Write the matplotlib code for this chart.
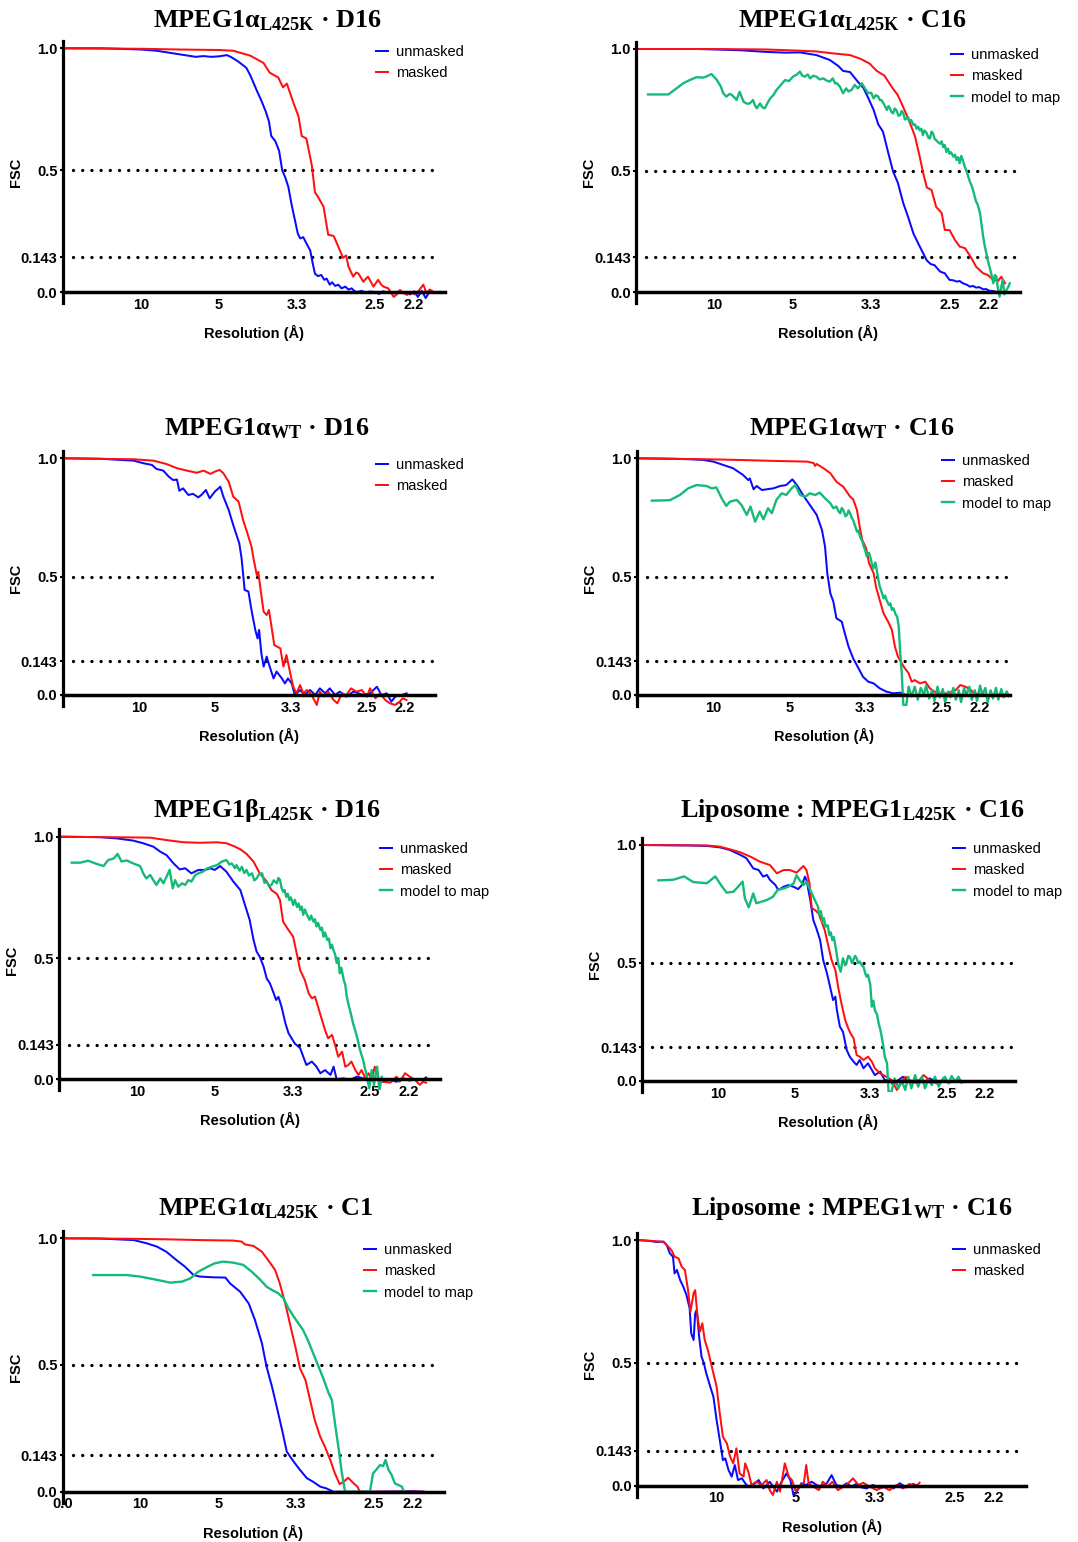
import matplotlib
matplotlib.use("Agg")
import matplotlib.pyplot as plt

plt.rcParams["font.family"] = ["Liberation Sans", "DejaVu Sans"]
plt.rcParams["mathtext.fontset"] = "custom"
plt.rcParams["mathtext.rm"] = "Liberation Serif:bold"
plt.rcParams["mathtext.bf"] = "Liberation Serif:bold"
plt.rcParams["mathtext.it"] = "Liberation Serif:bold:italic"

W, H = 1078, 1542

# spatial frequency (1/A) ticks and the resolution they stand for
res_ticks = [0.1, 0.2, 0.3, 0.4, 0.45]
res_labels = ["10", "5", "3.3", "2.5", "2.2"]
fsc_ticks = [0.0, 0.143, 0.5, 1.0]
fsc_labels = ["0.0", "0.143", "0.5", "1.0"]
thresholds = [0.5, 0.143]

# ---- MPEG1a L425K, D16 ----
a_l425k_d16_unmasked = [
    (0, 1.0), (0.05, 1.0), (0.10, 0.995), (0.12, 0.99), (0.14, 0.98), (0.16, 0.97), (0.17, 0.965),
    (0.18, 0.968), (0.19, 0.965), (0.20, 0.967), (0.21, 0.972), (0.215, 0.965), (0.225, 0.945),
    (0.235, 0.92), (0.24, 0.89), (0.248, 0.83), (0.255, 0.78), (0.26, 0.74), (0.264, 0.70),
    (0.267, 0.64), (0.272, 0.62), (0.277, 0.58), (0.281, 0.50), (0.285, 0.47), (0.289, 0.43),
    (0.293, 0.36), (0.297, 0.30), (0.301, 0.24), (0.304, 0.22), (0.308, 0.225), (0.312, 0.20),
    (0.317, 0.17), (0.320, 0.12), (0.323, 0.075), (0.327, 0.065), (0.331, 0.07), (0.335, 0.05),
    (0.338, 0.055), (0.342, 0.03), (0.345, 0.04), (0.349, 0.025), (0.353, 0.03), (0.357, 0.015),
    (0.362, 0.022), (0.366, 0.01), (0.370, 0.015), (0.374, 0.003), (0.378, 0.0), (0.383, 0.005),
    (0.388, -0.005), (0.393, 0.002), (0.40, 0.0), (0.405, -0.008), (0.41, 0.003), (0.415, -0.002),
    (0.42, 0.0), (0.425, -0.005), (0.43, 0.002), (0.435, -0.003), (0.44, 0.0), (0.445, -0.01),
    (0.45, 0.003), (0.455, -0.02), (0.46, 0.005), (0.465, -0.025), (0.47, 0.002),
]
a_l425k_d16_masked = [
    (0, 1.0), (0.1, 0.998), (0.15, 0.995), (0.2, 0.993), (0.218, 0.99), (0.24, 0.97), (0.257, 0.94),
    (0.265, 0.90), (0.276, 0.88), (0.282, 0.84), (0.287, 0.855), (0.295, 0.78), (0.302, 0.72),
    (0.306, 0.64), (0.312, 0.63), (0.319, 0.52), (0.323, 0.41), (0.327, 0.39), (0.334, 0.35),
    (0.340, 0.235), (0.347, 0.23), (0.353, 0.186), (0.359, 0.14), (0.363, 0.15), (0.366, 0.104),
    (0.372, 0.063), (0.376, 0.08), (0.379, 0.075), (0.385, 0.042), (0.391, 0.063), (0.395, 0.04),
    (0.398, 0.022), (0.404, 0.05), (0.408, 0.03), (0.411, 0.022), (0.417, 0.015), (0.424, -0.02),
    (0.428, -0.01), (0.432, 0.008), (0.437, -0.005), (0.441, -0.012), (0.446, 0.0), (0.451, -0.01),
    (0.456, 0.005), (0.462, 0.03), (0.466, -0.005), (0.470, 0.01), (0.473, 0.005),
]

# ---- MPEG1a L425K, C16 ----
a_l425k_c16_unmasked = [
    (0, 1.0), (0.08, 1.0), (0.132, 0.995), (0.166, 0.988), (0.19, 0.985), (0.209, 0.986),
    (0.23, 0.975), (0.247, 0.955), (0.258, 0.93), (0.264, 0.91), (0.273, 0.905), (0.283, 0.865),
    (0.29, 0.84), (0.296, 0.80), (0.303, 0.75), (0.309, 0.69), (0.315, 0.66), (0.322, 0.57),
    (0.328, 0.495), (0.334, 0.45), (0.341, 0.365), (0.347, 0.31), (0.354, 0.24), (0.362, 0.187),
    (0.371, 0.13), (0.376, 0.115), (0.381, 0.11), (0.388, 0.084), (0.394, 0.077), (0.40, 0.05),
    (0.405, 0.048), (0.409, 0.043), (0.413, 0.045), (0.417, 0.036), (0.422, 0.03), (0.426, 0.022),
    (0.43, 0.025), (0.434, 0.018), (0.438, 0.02), (0.443, 0.011), (0.447, 0.012), (0.451, 0.005),
    (0.456, 0.004), (0.46, 0.0),
]
a_l425k_c16_masked = [
    (0, 1.0), (0.1, 1.0), (0.166, 0.998), (0.209, 0.993), (0.23, 0.99), (0.251, 0.982),
    (0.273, 0.975), (0.286, 0.96), (0.298, 0.94), (0.307, 0.91), (0.317, 0.89), (0.326, 0.845),
    (0.334, 0.81), (0.341, 0.76), (0.349, 0.70), (0.356, 0.64), (0.362, 0.556), (0.366, 0.495),
    (0.371, 0.43), (0.377, 0.42), (0.383, 0.35), (0.39, 0.325), (0.394, 0.255), (0.40, 0.255),
    (0.407, 0.214), (0.413, 0.187), (0.42, 0.18), (0.428, 0.139), (0.434, 0.104), (0.443, 0.077),
    (0.449, 0.07), (0.456, 0.05), (0.462, 0.045), (0.466, 0.063), (0.471, 0.036),
]
a_l425k_c16_model = [
    (0.015, 0.813), (0.041, 0.813), (0.05, 0.835), (0.06, 0.859), (0.068, 0.872), (0.077, 0.884),
    (0.085, 0.882), (0.089, 0.886), (0.096, 0.897), (0.103, 0.872), (0.108, 0.845), (0.111, 0.818),
    (0.115, 0.804), (0.119, 0.815), (0.122, 0.811), (0.126, 0.798), (0.128, 0.79), (0.132, 0.824),
    (0.137, 0.783), (0.141, 0.775), (0.145, 0.776), (0.149, 0.79), (0.152, 0.765), (0.154, 0.756),
    (0.158, 0.776), (0.161, 0.76), (0.164, 0.756), (0.168, 0.78), (0.171, 0.797), (0.175, 0.81),
    (0.179, 0.831), (0.184, 0.85), (0.19, 0.872), (0.195, 0.868), (0.2, 0.886), (0.205, 0.895),
    (0.209, 0.907), (0.212, 0.89), (0.215, 0.886), (0.219, 0.895), (0.222, 0.879), (0.226, 0.89),
    (0.23, 0.886), (0.234, 0.875), (0.239, 0.879), (0.243, 0.87), (0.247, 0.866), (0.251, 0.879),
    (0.254, 0.858), (0.256, 0.86), (0.26, 0.845), (0.264, 0.818), (0.268, 0.838), (0.271, 0.825),
    (0.275, 0.832), (0.279, 0.852), (0.283, 0.838), (0.286, 0.85), (0.288, 0.859), (0.292, 0.838),
    (0.296, 0.818), (0.3, 0.82), (0.303, 0.797), (0.306, 0.81), (0.309, 0.804), (0.311, 0.79),
    (0.313, 0.79), (0.316, 0.775), (0.32, 0.749), (0.322, 0.765), (0.324, 0.756), (0.326, 0.74),
    (0.328, 0.735), (0.33, 0.755), (0.332, 0.749), (0.335, 0.725), (0.337, 0.728), (0.339, 0.745),
    (0.341, 0.735), (0.343, 0.71), (0.345, 0.714), (0.347, 0.72), (0.349, 0.70), (0.351, 0.708),
    (0.354, 0.687), (0.356, 0.69), (0.358, 0.672), (0.36, 0.68), (0.362, 0.665), (0.364, 0.672),
    (0.366, 0.646), (0.368, 0.665), (0.371, 0.653), (0.373, 0.635), (0.375, 0.632), (0.377, 0.66),
    (0.379, 0.653), (0.381, 0.63), (0.383, 0.625), (0.385, 0.618), (0.388, 0.61), (0.39, 0.62),
    (0.392, 0.596), (0.394, 0.605), (0.396, 0.576), (0.398, 0.59), (0.40, 0.569), (0.402, 0.575),
    (0.405, 0.557), (0.407, 0.565), (0.409, 0.543), (0.411, 0.555), (0.413, 0.53), (0.415, 0.56),
    (0.417, 0.543), (0.419, 0.52), (0.422, 0.495), (0.424, 0.475), (0.426, 0.454), (0.428, 0.44),
    (0.43, 0.42), (0.432, 0.395), (0.434, 0.372), (0.436, 0.36), (0.439, 0.324), (0.441, 0.275),
    (0.443, 0.228), (0.445, 0.19), (0.447, 0.159), (0.449, 0.13), (0.451, 0.104), (0.453, 0.08),
    (0.456, 0.036), (0.458, 0.07), (0.46, 0.063), (0.462, 0.01), (0.464, -0.019), (0.466, 0.02),
    (0.468, 0.05), (0.47, -0.01), (0.473, 0.01), (0.475, 0.02), (0.477, 0.036),
]

# ---- MPEG1a WT, D16 ----
a_wt_d16_unmasked = [
    (0, 1.0), (0.049, 0.998), (0.093, 0.99), (0.106, 0.979), (0.117, 0.972), (0.123, 0.955),
    (0.132, 0.948), (0.139, 0.923), (0.145, 0.908), (0.15, 0.91), (0.153, 0.863), (0.158, 0.873),
    (0.165, 0.845), (0.171, 0.85), (0.178, 0.835), (0.182, 0.845), (0.188, 0.866), (0.193, 0.831),
    (0.2, 0.86), (0.207, 0.88), (0.211, 0.838), (0.218, 0.782), (0.224, 0.718), (0.232, 0.64),
    (0.235, 0.577), (0.239, 0.444), (0.244, 0.437), (0.248, 0.359), (0.253, 0.275), (0.256, 0.239),
    (0.258, 0.275), (0.261, 0.176), (0.264, 0.12), (0.268, 0.162), (0.272, 0.12), (0.277, 0.07),
    (0.281, 0.099), (0.288, 0.07), (0.292, 0.049), (0.296, 0.07), (0.301, 0.049), (0.305, 0.0),
    (0.312, 0.021), (0.318, 0.0), (0.325, 0.021), (0.332, 0.0), (0.338, 0.028), (0.345, 0.007),
    (0.351, 0.028), (0.358, 0.0), (0.364, 0.014), (0.373, -0.007), (0.382, 0.014), (0.389, 0.007),
    (0.395, 0.0), (0.404, 0.007), (0.413, 0.035), (0.419, 0.0), (0.426, 0.007), (0.432, -0.028),
    (0.439, 0.0), (0.446, 0.0), (0.452, 0.007),
]
a_wt_d16_masked = [
    (0, 1.0), (0.093, 0.996), (0.119, 0.99), (0.136, 0.976), (0.15, 0.958), (0.163, 0.948),
    (0.176, 0.939), (0.185, 0.948), (0.194, 0.934), (0.2, 0.944), (0.206, 0.951), (0.211, 0.937),
    (0.218, 0.901), (0.224, 0.838), (0.231, 0.817), (0.237, 0.739), (0.242, 0.69), (0.248, 0.627),
    (0.251, 0.571), (0.255, 0.507), (0.257, 0.52), (0.26, 0.444), (0.264, 0.352), (0.268, 0.338),
    (0.271, 0.359), (0.275, 0.275), (0.278, 0.211), (0.282, 0.204), (0.286, 0.197), (0.29, 0.12),
    (0.294, 0.169), (0.299, 0.092), (0.303, 0.035), (0.307, 0.007), (0.312, 0.042), (0.316, 0.007),
    (0.321, 0.021), (0.327, 0.0), (0.334, -0.042), (0.338, 0.014), (0.343, -0.007), (0.349, 0.014),
    (0.356, -0.021), (0.361, -0.035), (0.367, 0.007), (0.373, 0.0), (0.379, 0.028), (0.386, 0.014),
    (0.393, 0.021), (0.40, -0.007), (0.404, 0.028), (0.411, -0.014), (0.417, 0.007), (0.424, -0.021),
    (0.43, -0.035), (0.437, -0.042), (0.443, -0.028), (0.447, -0.014), (0.452, -0.021),
]

# ---- MPEG1a WT, C16 ----
a_wt_c16_unmasked = [
    (0, 1.0), (0.047, 0.998), (0.069, 0.996), (0.087, 0.993), (0.1, 0.986), (0.113, 0.972),
    (0.126, 0.958), (0.139, 0.93), (0.146, 0.908), (0.148, 0.915), (0.153, 0.869), (0.157, 0.883),
    (0.164, 0.866), (0.17, 0.869), (0.179, 0.873), (0.188, 0.883), (0.196, 0.887), (0.204, 0.911),
    (0.21, 0.887), (0.218, 0.845), (0.227, 0.803), (0.236, 0.761), (0.243, 0.697), (0.247, 0.627),
    (0.25, 0.514), (0.254, 0.43), (0.258, 0.394), (0.262, 0.324), (0.269, 0.31), (0.273, 0.261),
    (0.278, 0.204), (0.284, 0.155), (0.291, 0.113), (0.297, 0.077), (0.304, 0.056), (0.311, 0.049),
    (0.319, 0.028), (0.328, 0.014), (0.337, 0.007), (0.346, 0.01), (0.354, 0.0), (0.37, 0.0),
    (0.40, 0.0), (0.44, 0.0), (0.48, 0.0),
]
a_wt_c16_masked = [
    (0, 1.0), (0.091, 0.996), (0.135, 0.993), (0.179, 0.989), (0.223, 0.986), (0.232, 0.98),
    (0.234, 0.968), (0.236, 0.976), (0.245, 0.958), (0.254, 0.937), (0.262, 0.901), (0.271, 0.88),
    (0.28, 0.838), (0.284, 0.827), (0.289, 0.782), (0.293, 0.704), (0.296, 0.655), (0.301, 0.62),
    (0.305, 0.556), (0.311, 0.514), (0.314, 0.458), (0.319, 0.401), (0.324, 0.345), (0.33, 0.31),
    (0.335, 0.275), (0.339, 0.204), (0.343, 0.162), (0.348, 0.134), (0.352, 0.113), (0.357, 0.092),
    (0.361, 0.056), (0.365, 0.063), (0.372, 0.049), (0.379, 0.056), (0.385, 0.028), (0.394, 0.007),
    (0.408, 0.007), (0.419, 0.021), (0.425, 0.042), (0.432, 0.035), (0.439, 0.021), (0.443, 0.007),
    (0.46, 0.0), (0.48, 0.0),
]
a_wt_c16_model = [
    (0.019, 0.821), (0.043, 0.823), (0.056, 0.845), (0.067, 0.873), (0.078, 0.887), (0.091, 0.883),
    (0.098, 0.873), (0.104, 0.877), (0.111, 0.831), (0.117, 0.799), (0.122, 0.817), (0.131, 0.824),
    (0.137, 0.803), (0.144, 0.761), (0.149, 0.796), (0.155, 0.732), (0.161, 0.775), (0.166, 0.742),
    (0.172, 0.789), (0.177, 0.768), (0.183, 0.824), (0.19, 0.852), (0.196, 0.845), (0.203, 0.873),
    (0.208, 0.887), (0.214, 0.845), (0.221, 0.838), (0.227, 0.852), (0.234, 0.845), (0.24, 0.855),
    (0.247, 0.831), (0.254, 0.81), (0.258, 0.789), (0.262, 0.796), (0.265, 0.775), (0.267, 0.768),
    (0.269, 0.79), (0.271, 0.782), (0.274, 0.755), (0.276, 0.761), (0.278, 0.78), (0.28, 0.768),
    (0.282, 0.75), (0.284, 0.739), (0.287, 0.71), (0.289, 0.69), (0.291, 0.695), (0.293, 0.669),
    (0.296, 0.65), (0.298, 0.627), (0.3, 0.61), (0.302, 0.585), (0.305, 0.6), (0.307, 0.578),
    (0.309, 0.55), (0.311, 0.535), (0.313, 0.56), (0.314, 0.549), (0.317, 0.49), (0.319, 0.458),
    (0.322, 0.43), (0.324, 0.408), (0.326, 0.42), (0.328, 0.401), (0.331, 0.38), (0.333, 0.387),
    (0.335, 0.36), (0.337, 0.366), (0.34, 0.34), (0.342, 0.33), (0.344, 0.289), (0.346, 0.176),
    (0.348, 0.092), (0.35, -0.042), (0.354, -0.042), (0.357, 0.035), (0.361, -0.007), (0.365, 0.035),
    (0.369, -0.02), (0.373, 0.03), (0.377, 0.0), (0.38, 0.04), (0.384, -0.015), (0.388, 0.02),
    (0.391, -0.025), (0.395, 0.035), (0.398, -0.01), (0.402, 0.025), (0.405, -0.03), (0.409, 0.015),
    (0.412, -0.01), (0.416, 0.03), (0.419, -0.02), (0.423, 0.02), (0.426, -0.03), (0.43, 0.03),
    (0.433, 0.0), (0.437, 0.035), (0.44, -0.02), (0.444, 0.02), (0.447, -0.025), (0.451, 0.04),
    (0.454, 0.0), (0.458, 0.03), (0.461, -0.03), (0.465, 0.02), (0.468, -0.015), (0.472, 0.03),
    (0.475, -0.02), (0.479, 0.025), (0.482, -0.01), (0.486, 0.015), (0.489, -0.005),
]

# ---- MPEG1b L425K, D16 ----
b_l425k_d16_unmasked = [
    (0, 1.0), (0.052, 0.998), (0.074, 0.993), (0.095, 0.984), (0.108, 0.973), (0.121, 0.959),
    (0.13, 0.938), (0.138, 0.924), (0.147, 0.89), (0.155, 0.865), (0.162, 0.87), (0.17, 0.849),
    (0.179, 0.863), (0.188, 0.863), (0.194, 0.87), (0.2, 0.863), (0.207, 0.879), (0.215, 0.856),
    (0.224, 0.815), (0.233, 0.78), (0.241, 0.698), (0.245, 0.657), (0.25, 0.574), (0.254, 0.526),
    (0.258, 0.505), (0.263, 0.464), (0.267, 0.415), (0.271, 0.396), (0.276, 0.354), (0.279, 0.327),
    (0.282, 0.34), (0.286, 0.299), (0.291, 0.231), (0.295, 0.19), (0.299, 0.169), (0.303, 0.148),
    (0.31, 0.128), (0.314, 0.093), (0.318, 0.059), (0.325, 0.073), (0.331, 0.052), (0.336, 0.025),
    (0.342, 0.038), (0.349, 0.018), (0.353, 0.052), (0.357, 0.0), (0.366, 0.004), (0.374, -0.003),
    (0.383, 0.011), (0.391, 0.004), (0.40, -0.005), (0.409, 0.0), (0.417, -0.01), (0.426, -0.003),
    (0.434, -0.01), (0.443, 0.004), (0.451, -0.005), (0.459, 0.0), (0.468, -0.003), (0.472, 0.008),
]
b_l425k_d16_masked = [
    (0, 1.0), (0.095, 0.997), (0.117, 0.996), (0.138, 0.986), (0.16, 0.977), (0.181, 0.975),
    (0.203, 0.977), (0.215, 0.973), (0.224, 0.962), (0.233, 0.948), (0.241, 0.929), (0.25, 0.897),
    (0.258, 0.849), (0.267, 0.815), (0.273, 0.78), (0.28, 0.764), (0.284, 0.739), (0.288, 0.65),
    (0.295, 0.615), (0.301, 0.588), (0.306, 0.512), (0.31, 0.45), (0.316, 0.409), (0.321, 0.354),
    (0.325, 0.334), (0.329, 0.341), (0.333, 0.299), (0.338, 0.245), (0.342, 0.203), (0.346, 0.169),
    (0.351, 0.183), (0.355, 0.141), (0.359, 0.093), (0.364, 0.114), (0.368, 0.052), (0.372, 0.059),
    (0.376, 0.073), (0.381, 0.038), (0.385, 0.018), (0.389, 0.038), (0.394, 0.004), (0.398, 0.025),
    (0.402, -0.003), (0.406, 0.052), (0.411, -0.003), (0.417, -0.01), (0.426, -0.014), (0.434, 0.011),
    (0.438, -0.01), (0.445, 0.025), (0.451, 0.011), (0.458, -0.003), (0.464, -0.023), (0.468, -0.01),
    (0.472, -0.014),
]
b_l425k_d16_model = [
    (0.016, 0.893), (0.027, 0.893), (0.037, 0.901), (0.048, 0.888), (0.057, 0.879), (0.063, 0.904),
    (0.07, 0.91), (0.075, 0.929), (0.08, 0.898), (0.087, 0.902), (0.095, 0.89), (0.104, 0.879),
    (0.108, 0.849), (0.112, 0.828), (0.117, 0.842), (0.121, 0.821), (0.125, 0.801), (0.13, 0.828),
    (0.134, 0.808), (0.138, 0.835), (0.142, 0.863), (0.146, 0.787), (0.149, 0.821), (0.153, 0.794),
    (0.158, 0.808), (0.162, 0.801), (0.166, 0.821), (0.17, 0.815), (0.175, 0.842), (0.179, 0.849),
    (0.185, 0.856), (0.19, 0.869), (0.196, 0.876), (0.203, 0.883), (0.209, 0.897), (0.215, 0.904),
    (0.219, 0.885), (0.222, 0.89), (0.226, 0.87), (0.228, 0.883), (0.232, 0.86), (0.235, 0.876),
    (0.238, 0.85), (0.241, 0.863), (0.244, 0.84), (0.248, 0.849), (0.251, 0.82), (0.254, 0.828),
    (0.257, 0.845), (0.261, 0.849), (0.264, 0.81), (0.267, 0.815), (0.27, 0.795), (0.273, 0.801),
    (0.276, 0.82), (0.28, 0.808), (0.282, 0.83), (0.284, 0.822), (0.286, 0.79), (0.288, 0.773),
    (0.29, 0.78), (0.292, 0.752), (0.294, 0.765), (0.296, 0.739), (0.298, 0.75), (0.301, 0.718),
    (0.303, 0.74), (0.306, 0.71), (0.308, 0.725), (0.31, 0.698), (0.312, 0.712), (0.314, 0.678),
    (0.316, 0.7), (0.318, 0.684), (0.32, 0.67), (0.322, 0.657), (0.324, 0.675), (0.327, 0.65),
    (0.329, 0.66), (0.331, 0.63), (0.333, 0.645), (0.336, 0.616), (0.338, 0.625), (0.34, 0.588),
    (0.342, 0.605), (0.345, 0.574), (0.347, 0.58), (0.349, 0.54), (0.351, 0.555), (0.353, 0.53),
    (0.355, 0.515), (0.357, 0.48), (0.359, 0.5), (0.361, 0.437), (0.363, 0.46), (0.366, 0.41),
    (0.368, 0.39), (0.37, 0.341), (0.372, 0.31), (0.374, 0.286), (0.376, 0.26), (0.378, 0.231),
    (0.381, 0.2), (0.383, 0.176), (0.385, 0.15), (0.387, 0.121), (0.389, 0.1), (0.391, 0.08),
    (0.393, 0.05), (0.395, 0.025), (0.397, -0.01), (0.399, -0.037), (0.402, 0.038), (0.405, -0.025),
    (0.407, 0.02), (0.409, 0.052), (0.412, -0.044), (0.415, 0.01),
]

# ---- Liposome : MPEG1 L425K, C16 ----
lipo_l425k_c16_unmasked = [
    (0, 1.0), (0.063, 0.998), (0.085, 0.996), (0.102, 0.99), (0.115, 0.979), (0.129, 0.958),
    (0.137, 0.944), (0.146, 0.901), (0.153, 0.894), (0.159, 0.866), (0.164, 0.873), (0.168, 0.852),
    (0.175, 0.831), (0.179, 0.809), (0.186, 0.823), (0.192, 0.83), (0.199, 0.823), (0.205, 0.813),
    (0.21, 0.83), (0.214, 0.866), (0.216, 0.852), (0.221, 0.767), (0.225, 0.682), (0.229, 0.647),
    (0.234, 0.597), (0.238, 0.513), (0.243, 0.456), (0.247, 0.4), (0.251, 0.343), (0.254, 0.357),
    (0.256, 0.301), (0.26, 0.23), (0.264, 0.209), (0.269, 0.131), (0.273, 0.103), (0.278, 0.082),
    (0.282, 0.068), (0.286, 0.089), (0.291, 0.054), (0.297, 0.075), (0.302, 0.047), (0.306, 0.025),
    (0.313, 0.04), (0.319, 0.004), (0.326, 0.004), (0.33, -0.017), (0.337, 0.004), (0.343, 0.018),
    (0.352, -0.007), (0.361, 0.004), (0.37, -0.007), (0.378, 0.011), (0.387, -0.003), (0.396, 0.001),
    (0.405, -0.005), (0.418, 0.002),
]
lipo_l425k_c16_masked = [
    (0, 1.0), (0.085, 0.998), (0.102, 0.993), (0.115, 0.982), (0.129, 0.969), (0.142, 0.951),
    (0.155, 0.929), (0.168, 0.915), (0.177, 0.88), (0.186, 0.894), (0.194, 0.894), (0.203, 0.883),
    (0.212, 0.911), (0.216, 0.894), (0.22, 0.838), (0.223, 0.732), (0.227, 0.725), (0.232, 0.71),
    (0.236, 0.675), (0.24, 0.64), (0.245, 0.569), (0.249, 0.513), (0.254, 0.47), (0.258, 0.393),
    (0.262, 0.329), (0.267, 0.258), (0.271, 0.223), (0.274, 0.202), (0.278, 0.181), (0.282, 0.11),
    (0.286, 0.103), (0.291, 0.089), (0.297, 0.103), (0.302, 0.082), (0.306, 0.054), (0.313, 0.032),
    (0.321, 0.018), (0.328, 0.004), (0.335, -0.038), (0.339, -0.017), (0.346, 0.018), (0.352, 0.004),
    (0.361, -0.01), (0.37, 0.025), (0.378, 0.004), (0.387, -0.01), (0.396, 0.004), (0.405, -0.005),
    (0.415, 0.005),
]
lipo_l425k_c16_model = [
    (0.021, 0.85), (0.041, 0.853), (0.055, 0.867), (0.067, 0.843), (0.085, 0.838), (0.096, 0.867),
    (0.104, 0.828), (0.111, 0.798), (0.12, 0.802), (0.126, 0.823), (0.132, 0.845), (0.135, 0.774),
    (0.14, 0.736), (0.146, 0.795), (0.15, 0.753), (0.157, 0.76), (0.164, 0.767), (0.172, 0.781),
    (0.178, 0.809), (0.186, 0.816), (0.192, 0.823), (0.199, 0.837), (0.203, 0.872), (0.207, 0.851),
    (0.212, 0.83), (0.216, 0.844), (0.221, 0.809), (0.225, 0.781), (0.229, 0.753), (0.231, 0.74),
    (0.233, 0.703), (0.235, 0.72), (0.237, 0.675), (0.239, 0.69), (0.241, 0.654), (0.244, 0.66),
    (0.246, 0.619), (0.248, 0.63), (0.25, 0.597), (0.252, 0.61), (0.255, 0.555), (0.258, 0.492),
    (0.261, 0.463), (0.264, 0.52), (0.267, 0.49), (0.269, 0.506), (0.271, 0.53), (0.273, 0.527),
    (0.276, 0.5), (0.278, 0.515), (0.28, 0.53), (0.282, 0.52), (0.284, 0.5), (0.286, 0.506),
    (0.289, 0.49), (0.291, 0.484), (0.293, 0.46), (0.295, 0.442), (0.297, 0.45), (0.3, 0.407),
    (0.302, 0.315), (0.304, 0.34), (0.306, 0.3), (0.309, 0.28), (0.311, 0.244), (0.313, 0.22),
    (0.315, 0.188), (0.317, 0.15), (0.319, 0.103), (0.322, 0.075), (0.324, -0.045), (0.328, -0.045),
    (0.332, 0.011), (0.337, -0.031), (0.341, 0.004), (0.346, -0.038), (0.35, 0.018), (0.354, -0.031),
    (0.359, 0.025), (0.363, -0.024), (0.368, 0.018), (0.372, -0.031), (0.376, 0.004), (0.381, -0.017),
    (0.385, 0.018), (0.39, -0.024), (0.394, 0.004), (0.398, 0.018), (0.403, -0.01), (0.407, 0.021),
    (0.412, -0.003), (0.416, 0.018), (0.42, -0.007),
]

# ---- MPEG1a L425K, C1 ----
a_l425k_c1_unmasked = [
    (0, 1.0), (0.048, 0.999), (0.091, 0.993), (0.108, 0.98), (0.121, 0.967), (0.133, 0.947),
    (0.146, 0.914), (0.157, 0.888), (0.168, 0.855), (0.176, 0.849), (0.194, 0.846), (0.209, 0.845),
    (0.215, 0.822), (0.228, 0.789), (0.239, 0.743), (0.247, 0.678), (0.256, 0.586), (0.262, 0.493),
    (0.269, 0.414), (0.275, 0.336), (0.282, 0.243), (0.288, 0.158), (0.297, 0.118), (0.305, 0.086),
    (0.314, 0.053), (0.322, 0.039), (0.331, 0.02), (0.339, 0.013), (0.348, 0.0), (0.40, 0.0),
    (0.45, 0.002), (0.464, 0.0),
]
a_l425k_c1_masked = [
    (0, 1.0), (0.091, 0.998), (0.133, 0.996), (0.176, 0.993), (0.219, 0.991), (0.23, 0.987),
    (0.234, 0.976), (0.245, 0.97), (0.256, 0.947), (0.264, 0.914), (0.273, 0.875), (0.279, 0.822),
    (0.286, 0.743), (0.292, 0.664), (0.299, 0.572), (0.305, 0.487), (0.312, 0.441), (0.318, 0.362),
    (0.324, 0.283), (0.331, 0.217), (0.337, 0.178), (0.344, 0.125), (0.35, 0.072), (0.356, 0.03),
    (0.361, 0.039), (0.367, 0.055), (0.374, 0.033), (0.379, 0.02), (0.382, 0.0), (0.42, 0.0),
    (0.464, 0.0),
]
a_l425k_c1_model = [
    (0.039, 0.855), (0.082, 0.855), (0.099, 0.849), (0.121, 0.836), (0.138, 0.825), (0.153, 0.829),
    (0.164, 0.842), (0.174, 0.868), (0.185, 0.886), (0.195, 0.901), (0.206, 0.908), (0.219, 0.904),
    (0.232, 0.895), (0.243, 0.868), (0.254, 0.836), (0.262, 0.809), (0.269, 0.796), (0.277, 0.783),
    (0.284, 0.763), (0.29, 0.724), (0.297, 0.691), (0.303, 0.664), (0.309, 0.638), (0.316, 0.592),
    (0.322, 0.546), (0.329, 0.493), (0.335, 0.447), (0.342, 0.388), (0.346, 0.362), (0.35, 0.27),
    (0.355, 0.164), (0.359, 0.072), (0.363, 0.0), (0.395, 0.0), (0.399, 0.072), (0.403, 0.086),
    (0.408, 0.105), (0.412, 0.101), (0.415, 0.125), (0.419, 0.086), (0.423, 0.066), (0.427, 0.033),
    (0.432, 0.026), (0.436, 0.02), (0.439, 0.0),
]

# ---- Liposome : MPEG1 WT, C16 ----
lipo_wt_c16_unmasked = [
    (0, 1.0), (0.016, 0.996), (0.024, 0.992), (0.033, 0.993), (0.037, 0.98), (0.041, 0.946),
    (0.045, 0.932), (0.047, 0.864), (0.05, 0.878), (0.054, 0.837), (0.058, 0.81), (0.062, 0.776),
    (0.066, 0.722), (0.068, 0.62), (0.071, 0.593), (0.073, 0.701), (0.075, 0.715), (0.078, 0.606),
    (0.081, 0.525), (0.084, 0.498), (0.087, 0.457), (0.092, 0.403), (0.096, 0.362), (0.1, 0.267),
    (0.104, 0.186), (0.108, 0.104), (0.111, 0.111), (0.115, 0.064), (0.119, 0.037), (0.123, 0.084),
    (0.127, 0.023), (0.132, 0.03), (0.136, 0.01), (0.14, -0.004), (0.146, 0.003), (0.153, 0.023),
    (0.159, -0.011), (0.167, 0.016), (0.176, -0.024), (0.182, 0.016), (0.188, 0.05), (0.193, 0.023),
    (0.197, -0.038), (0.2, -0.031), (0.207, 0.01), (0.213, 0.003), (0.22, 0.016), (0.226, 0.003),
    (0.232, -0.004), (0.239, 0.01), (0.245, 0.043), (0.251, 0.003), (0.258, -0.004), (0.264, 0.01),
    (0.27, -0.004), (0.276, 0.007), (0.283, -0.007), (0.289, -0.011), (0.297, 0.003), (0.306, -0.011),
    (0.314, -0.001), (0.323, -0.011), (0.331, 0.01), (0.339, -0.007), (0.348, 0.007), (0.356, -0.004),
]
lipo_wt_c16_masked = [
    (0, 1.0), (0.02, 0.996), (0.033, 0.993), (0.039, 0.973), (0.043, 0.959), (0.047, 0.932),
    (0.052, 0.925), (0.056, 0.891), (0.06, 0.878), (0.064, 0.796), (0.067, 0.708), (0.071, 0.783),
    (0.073, 0.796), (0.076, 0.687), (0.079, 0.627), (0.082, 0.661), (0.085, 0.593), (0.089, 0.552),
    (0.092, 0.511), (0.096, 0.457), (0.1, 0.403), (0.104, 0.294), (0.108, 0.199), (0.113, 0.172),
    (0.117, 0.118), (0.121, 0.091), (0.125, 0.152), (0.129, 0.05), (0.134, 0.037), (0.136, 0.091),
    (0.14, 0.057), (0.144, 0.003), (0.15, 0.016), (0.157, 0.003), (0.163, 0.023), (0.167, -0.018),
    (0.171, -0.038), (0.176, 0.016), (0.18, -0.024), (0.186, 0.091), (0.191, 0.037), (0.195, 0.023),
    (0.2, -0.024), (0.204, -0.004), (0.21, 0.01), (0.213, 0.084), (0.216, 0.01), (0.222, -0.004),
    (0.229, -0.018), (0.234, 0.016), (0.24, -0.004), (0.246, 0.016), (0.253, -0.018), (0.26, -0.004),
    (0.266, 0.01), (0.272, 0.03), (0.279, 0.003), (0.285, 0.012), (0.293, -0.004), (0.302, -0.018),
    (0.31, -0.004), (0.318, -0.018), (0.327, 0.003), (0.335, -0.011), (0.343, 0.007), (0.352, -0.001),
    (0.356, 0.012),
]

BLUE = "#0a0aff"
RED = "#ff1010"
GREEN = "#14bb78"


def fsc_panel(fig, x0, y_one, y_zero, tenth, title, title_pos, curves, legend_pos, origin_tick=False):
    """One FSC plot; geometry given in figure pixels."""
    sy = y_zero - y_one
    width_px = 4.9 * tenth
    height_px = 1.075 * sy
    rect = [x0 / W, 1 - (y_zero + 0.045 * sy) / H, width_px / W, height_px / H]
    ax = fig.add_axes(rect)
    ax.set_xlim(0, 0.49)
    ax.set_ylim(-0.045, 1.03)

    for y in thresholds:
        ax.plot([0.013, 0.485], [y, y], color="black", lw=2.4,
                ls=(0, (0.01, 2.75)), dash_capstyle="round", zorder=1)

    for data, color, label in curves:
        xs = [p[0] for p in data]
        ys = [p[1] for p in data]
        lw = 1.7 if color == GREEN else 1.45
        ax.plot(xs, ys, color=color, lw=lw, label=label, zorder=2)

    for side in ("top", "right"):
        ax.spines[side].set_visible(False)
    ax.spines["left"].set_linewidth(2.3)
    ax.spines["bottom"].set_linewidth(2.5)
    ax.spines["bottom"].set_position(("data", 0))
    ax.spines["bottom"].set_zorder(3)

    xt, xl = list(res_ticks), list(res_labels)
    if origin_tick:
        xt, xl = [0.0] + xt, ["0.0"] + xl
    ax.set_xticks(xt, xl)
    ax.set_yticks(fsc_ticks, fsc_labels)
    ax.tick_params(axis="x", length=0, pad=4, labelsize=10.5)
    ax.tick_params(axis="y", length=2.5, width=1.5, pad=1.5, labelsize=10.5)
    for lab in ax.get_xticklabels() + ax.get_yticklabels():
        lab.set_fontweight("bold")

    ax.set_xlabel("Resolution (Å)", fontsize=10.5, fontweight="bold")
    ax.xaxis.set_label_coords(0.5, -22 / height_px)
    ax.set_ylabel("FSC", fontsize=10.5, fontweight="bold")
    ax.yaxis.set_label_coords(-40 / width_px, 0.5)

    lx, ly = legend_pos
    ax.legend(loc="upper left", bbox_to_anchor=(lx / W, 1 - ly / H),
              bbox_transform=fig.transFigure, frameon=False, fontsize=10.5,
              borderpad=0, borderaxespad=0, handlelength=0.85, handletextpad=0.5,
              labelspacing=0.5)

    tx, ty = title_pos
    fig.text(tx / W, 1 - ty / H, title, ha="center", va="baseline",
             fontsize=18.8, fontweight="bold", family="Liberation Serif")
    return ax


fig = plt.figure(figsize=(W / 100, H / 100), dpi=100)

fsc_panel(fig, 63, 48.3, 292, 78,
          r"MPEG1$\mathrm{α}_{\mathbf{L425K}}$ · D16", (267, 27),
          [(a_l425k_d16_unmasked, BLUE, "unmasked"), (a_l425k_d16_masked, RED, "masked")],
          (376, 45))
fsc_panel(fig, 636.3, 49, 292, 78.3,
          r"MPEG1$\mathrm{α}_{\mathbf{L425K}}$ · C16", (852, 27),
          [(a_l425k_c16_unmasked, BLUE, "unmasked"), (a_l425k_c16_masked, RED, "masked"),
           (a_l425k_c16_model, GREEN, "model to map")],
          (951, 48))
fsc_panel(fig, 63, 458.3, 695, 76,
          r"MPEG1$\mathrm{α}_{\mathbf{WT}}$ · D16", (267, 435),
          [(a_wt_d16_unmasked, BLUE, "unmasked"), (a_wt_d16_masked, RED, "masked")],
          (376, 458))
fsc_panel(fig, 637.3, 458.3, 695, 76,
          r"MPEG1$\mathrm{α}_{\mathbf{WT}}$ · C16", (852, 435),
          [(a_wt_c16_unmasked, BLUE, "unmasked"), (a_wt_c16_masked, RED, "masked"),
           (a_wt_c16_model, GREEN, "model to map")],
          (942, 454))
fsc_panel(fig, 59.3, 836.7, 1079.3, 77.7,
          r"MPEG1$\mathrm{β}_{\mathbf{L425K}}$ · D16", (267, 817),
          [(b_l425k_d16_unmasked, BLUE, "unmasked"), (b_l425k_d16_masked, RED, "masked"),
           (b_l425k_d16_model, GREEN, "model to map")],
          (380, 842))
fsc_panel(fig, 642.3, 845, 1081, 76,
          r"Liposome : MPEG$\mathbf{1}_{\mathbf{L425K}}$ · C16", (852, 817),
          [(lipo_l425k_c16_unmasked, BLUE, "unmasked"), (lipo_l425k_c16_masked, RED, "masked"),
           (lipo_l425k_c16_model, GREEN, "model to map")],
          (953, 842))
fsc_panel(fig, 63, 1238.3, 1491.7, 77.7,
          r"MPEG1$\mathrm{α}_{\mathbf{L425K}}$ · C1", (266, 1215),
          [(a_l425k_c1_unmasked, BLUE, "unmasked"), (a_l425k_c1_masked, RED, "masked"),
           (a_l425k_c1_model, GREEN, "model to map")],
          (364, 1243), origin_tick=True)
fsc_panel(fig, 637.3, 1240, 1485.7, 79.3,
          r"Liposome : MPEG$\mathbf{1}_{\mathbf{WT}}$ · C16", (852, 1215),
          [(lipo_wt_c16_unmasked, BLUE, "unmasked"), (lipo_wt_c16_masked, RED, "masked")],
          (953, 1243))

fig.savefig("out.png", dpi=100)
